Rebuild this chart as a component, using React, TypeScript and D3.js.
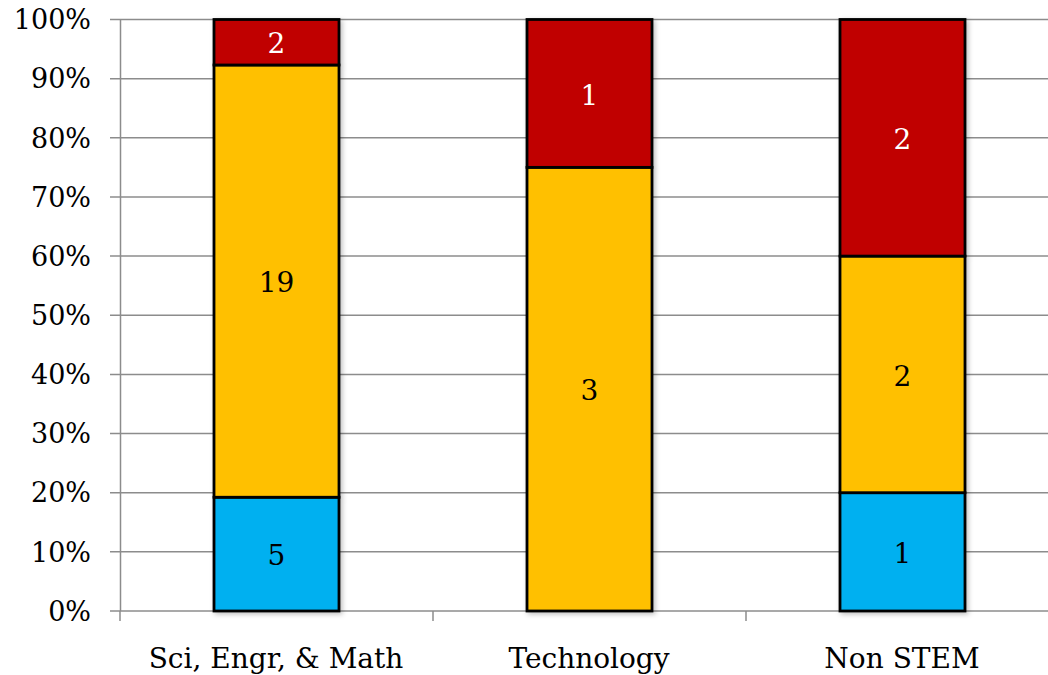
import React from "react";
import * as d3 from "d3";

const categories = ["Sci, Engr, & Math", "Technology", "Non STEM"];
const seriesNames = ["Low", "Mid", "High"];
const lowValues = [5, 0, 1];
const midValues = [19, 3, 2];
const highValues = [2, 1, 2];
const seriesColors = ["#00B0F0", "#FFC000", "#C00000"];
const labelColors = ["#000000", "#000000", "#FFFFFF"];
const yTicks = [0, 0.1, 0.2, 0.3, 0.4, 0.5, 0.6, 0.7, 0.8, 0.9, 1.0];

const W = 1048;
const H = 675;
const FONT = "'DejaVu Serif', Georgia, serif";

export default function App() {
  const x = d3.scaleBand<string>().domain(categories).range([120, 1059]).paddingInner(0).paddingOuter(0);
  const y = d3.scaleLinear().domain([0, 1]).range([611, 19.5]);
  const barW = 125;

  const rows = categories.map((c, i) => {
    const vals = [lowValues[i], midValues[i], highValues[i]];
    const total = d3.sum(vals);
    const row: any = { cat: c };
    seriesNames.forEach((s, j) => (row[s] = vals[j] / total));
    row.raw = vals;
    return row;
  });
  const stack = d3.stack<any>().keys(seriesNames);
  const stacked = stack(rows);
  const fmt = d3.format(".0%");

  return (
    <svg width={W} height={H} style={{ position: "absolute", left: 0, top: 0, background: "#fff" }} fontFamily={FONT}>
      <defs>
        <filter id="sh" x="-20%" y="-5%" width="140%" height="110%">
          <feDropShadow dx="2" dy="2" stdDeviation="2.5" floodColor="#000" floodOpacity="0.25" />
        </filter>
      </defs>
      {yTicks.map((t) => (
        <g key={t}>
          <line x1={110} x2={W} y1={y(t)} y2={y(t)} stroke="#8c8c8c" strokeWidth={1.5} />
          <text x={91} y={y(t)} dy="0.36em" textAnchor="end" fontSize={27} fill="#000">
            {fmt(t)}
          </text>
        </g>
      ))}
      <line x1={120.5} x2={120.5} y1={y(1)} y2={y(0)} stroke="#8c8c8c" strokeWidth={1.5} />
      {categories.map((c, i) => (
        <line key={"t" + i} x1={(x(c) as number) + x.bandwidth()} x2={(x(c) as number) + x.bandwidth()} y1={y(0)} y2={y(0) + 10} stroke="#8c8c8c" strokeWidth={1.5} />
      ))}
      <line x1={120} x2={120} y1={y(0)} y2={y(0) + 10} stroke="#8c8c8c" strokeWidth={1.5} />
      {categories.map((c, i) => {
        const cx = (x(c) as number) + x.bandwidth() / 2;
        return (
          <g key={c} filter="url(#sh)">
            {stacked.map((s, j) => {
              const d = s[i];
              if (d[1] - d[0] <= 0) return null;
              return (
                <rect key={j} x={cx - barW / 2} y={y(d[1])} width={barW} height={y(d[0]) - y(d[1])} fill={seriesColors[j]} stroke="#000" strokeWidth={2.8} />
              );
            })}
          </g>
        );
      })}
      {categories.map((c, i) => {
        const cx = (x(c) as number) + x.bandwidth() / 2;
        return stacked.map((s, j) => {
          const d = s[i];
          if (d[1] - d[0] <= 0) return null;
          return (
            <text key={c + j} x={cx} y={y((d[0] + d[1]) / 2)} dy="0.4em" textAnchor="middle" fontSize={28} fill={labelColors[j]}>
              {rows[i].raw[j]}
            </text>
          );
        });
      })}
      {categories.map((c) => (
        <text key={c} x={(x(c) as number) + x.bandwidth() / 2 - 0.5} y={668} textAnchor="middle" fontSize={28} fill="#000">
          {c}
        </text>
      ))}
    </svg>
  );
}
